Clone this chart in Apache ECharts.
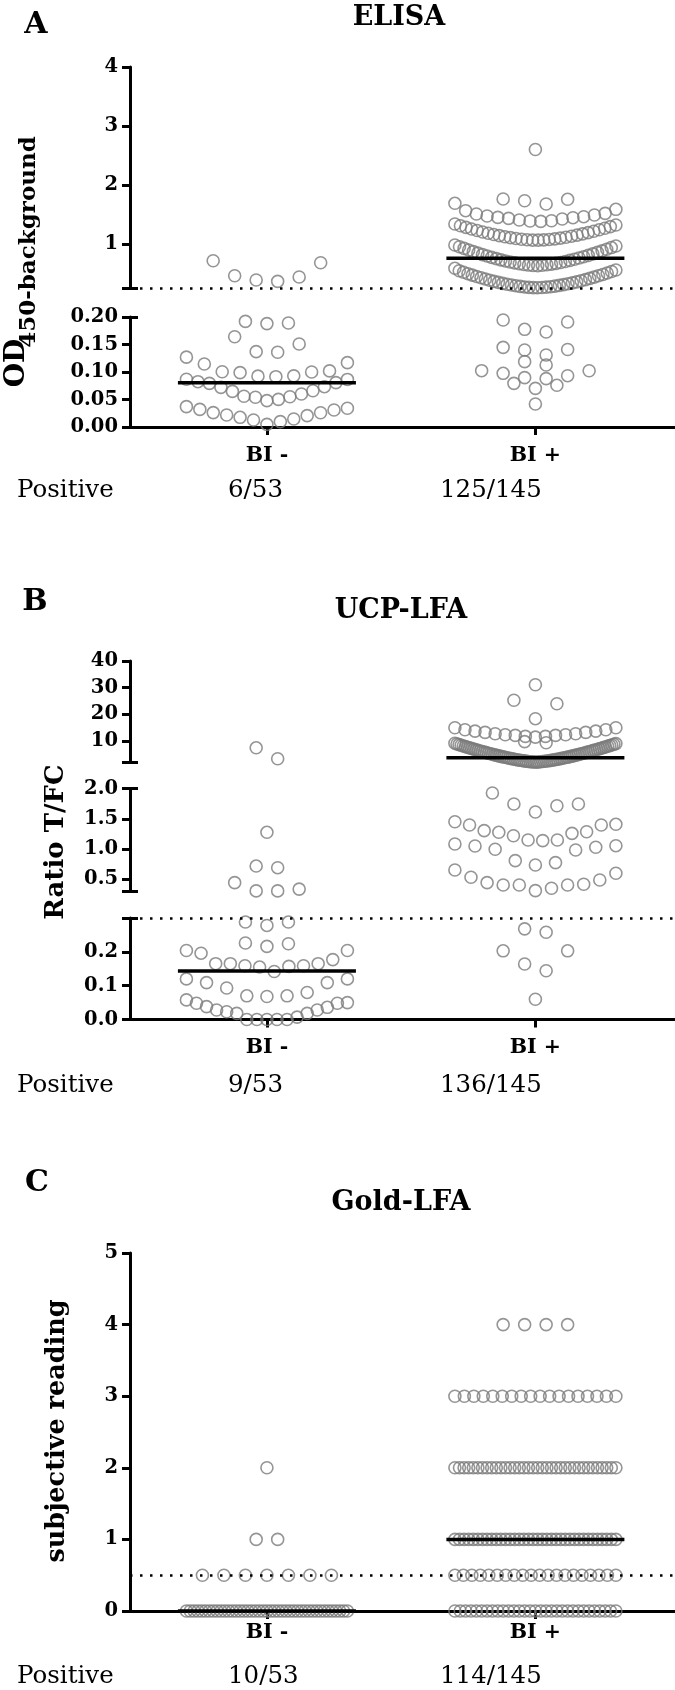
<!DOCTYPE html>
<html>
<head>
<meta charset="utf-8">
<script src="https://cdn.jsdelivr.net/npm/echarts@6.0.0/dist/echarts.min.js"></script>
<style>
html,body{margin:0;padding:0;background:#ffffff;}
#chart{width:675px;height:1690px;}
</style>
</head>
<body>
<div id="chart"></div>
<script>
// ======================= DATA =======================
const groups = ['BI -', 'BI +'];
const positiveText = 'Positive';

// ---- Panel A: ELISA (each inner array = one row of the dot plot) ----
const elisaNegRows = [
  [0.363, 0.385, 0.436, 0.458, 0.679, 0.713],
  [0.188, 0.189, 0.192],
  [0.136, 0.137, 0.151, 0.164],
  [0.0915, 0.0925, 0.093, 0.0988, 0.100, 0.1005, 0.102, 0.1145, 0.117, 0.127],
  [0.048, 0.0503, 0.054, 0.055, 0.056, 0.060, 0.0648, 0.066, 0.0721, 0.0733, 0.0794, 0.0806, 0.0824, 0.0865, 0.0868],
  [0.0048, 0.0097, 0.0127, 0.0145, 0.0176, 0.0206, 0.0218, 0.026, 0.0262, 0.031, 0.032, 0.034, 0.037]
];
const elisaPosRows = [
  [2.60],
  [1.675, 1.73, 1.755, 1.76],
  [1.38, 1.387, 1.392, 1.404, 1.421, 1.432, 1.443, 1.449, 1.46, 1.472, 1.489, 1.506, 1.517, 1.562, 1.585, 1.687],
  [1.062, 1.063, 1.066, 1.069, 1.074, 1.078, 1.084, 1.09, 1.097, 1.104, 1.112, 1.12, 1.129, 1.138, 1.147,
   1.157, 1.168, 1.178, 1.19, 1.201, 1.213, 1.226, 1.238, 1.251, 1.264, 1.278, 1.292, 1.306, 1.319, 1.336],
  [0.63, 0.632, 0.635, 0.639, 0.644, 0.649, 0.655, 0.661, 0.668, 0.676, 0.683, 0.692, 0.70, 0.709, 0.719, 0.728, 0.738, 0.748,
   0.759, 0.77, 0.781, 0.793, 0.804, 0.816, 0.829, 0.841, 0.854, 0.867, 0.88, 0.894, 0.908, 0.922, 0.936, 0.95, 0.963, 0.98],
  [0.255, 0.256, 0.258, 0.261, 0.264, 0.268, 0.272, 0.277, 0.282, 0.288, 0.294, 0.30, 0.307, 0.314, 0.321, 0.329, 0.337, 0.346, 0.354,
   0.363, 0.373, 0.382, 0.392, 0.402, 0.413, 0.423, 0.434, 0.445, 0.457, 0.468, 0.48, 0.492, 0.505, 0.517, 0.53, 0.543, 0.555, 0.584],
  [0.1727, 0.1776, 0.1909, 0.1945],
  [0.1309, 0.140, 0.141, 0.1448],
  [0.1127, 0.1188],
  [0.0879, 0.0897, 0.0933, 0.0976, 0.1022, 0.1024],
  [0.0703, 0.0758, 0.0794],
  [0.0418]
];
const elisaMedians = [0.0805, 0.754];
const elisaCutoff = 0.25;
const elisaPositive = ['6/53', '125/145'];
const elisaUpperTicks = [1, 2, 3, 4];
const elisaLowerTicks = [0, 0.05, 0.10, 0.15, 0.20];

// ---- Panel B: UCP-LFA ----
const ucpNegRows = [
  [3.4, 7.5],
  [1.277],
  [0.693, 0.72],
  [0.31, 0.31, 0.34, 0.446],
  [0.278, 0.288, 0.288],
  [0.216, 0.224, 0.226],
  [0.142, 0.155, 0.157, 0.159, 0.159, 0.165, 0.165, 0.165, 0.177, 0.196, 0.204, 0.204],
  [0.068, 0.07, 0.07, 0.08, 0.093, 0.109, 0.109, 0.12, 0.12],
  [0, 0, 0, 0, 0, 0.007, 0.018, 0.018, 0.023, 0.028, 0.028, 0.036, 0.038, 0.048, 0.048, 0.05, 0.058]
];
const ucpPosRows = [
  [31.1],
  [18.4, 24.0, 25.3],
  [11.5, 11.77, 11.77, 12.14, 12.14, 12.4, 12.4, 12.76, 12.76, 13.26, 13.26, 13.76, 13.76, 14.26, 14.26, 15.0, 15.0],
  [9.4, 9.8],
  [2.15, 2.17, 2.19, 2.22, 2.26, 2.30, 2.35, 2.40, 2.45, 2.50, 2.55, 2.61, 2.67, 2.73, 2.80, 2.86, 2.93, 3.00, 3.07, 3.14,
   3.22, 3.29, 3.37, 3.45, 3.53, 3.61, 3.69, 3.78, 3.86, 3.95, 4.03, 4.12, 4.21, 4.30, 4.39, 4.49, 4.58, 4.68, 4.77, 4.87,
   4.97, 5.07, 5.17, 5.27, 5.37, 5.47, 5.58, 5.68, 5.79, 5.89, 6.00, 6.11, 6.22, 6.33, 6.44, 6.55, 6.66, 6.78, 6.89, 7.01,
   7.12, 7.24, 7.36, 7.47, 7.59, 7.71, 7.83, 7.95, 8.07, 8.20, 8.32, 8.44, 8.57, 8.69, 8.82, 8.94, 9.07, 9.20],
  [1.612, 1.716, 1.744, 1.744, 1.926],
  [1.139, 1.15, 1.15, 1.221, 1.26, 1.277, 1.287, 1.304, 1.398, 1.398, 1.409, 1.452],
  [0.738, 0.776, 0.809, 0.985, 0.997, 1.03, 1.051, 1.056, 1.084],
  [0.314, 0.353, 0.408, 0.408, 0.408, 0.419, 0.446, 0.49, 0.535, 0.601, 0.655],
  [0.258, 0.268],
  [0.144, 0.164, 0.203, 0.203],
  [0.06]
];
const ucpMedians = [0.143, 3.8];
const ucpCutoff = 0.3;
const ucpPositive = ['9/53', '136/145'];
const ucpUpperTicks = [10, 20, 30, 40];
const ucpMiddleTicks = [0.5, 1.0, 1.5, 2.0];
const ucpLowerTicks = [0, 0.1, 0.2];

// ---- Panel C: Gold-LFA (discrete readings, number of samples per level) ----
const goldLevels = [0, 0.5, 1, 2, 3, 4];
const goldNegCounts = [43, 7, 2, 1, 0, 0];
const goldPosCounts = [31, 20, 36, 36, 18, 4];
const goldMedians = [0, 1];
const goldCutoff = 0.5;
const goldPositive = ['10/53', '114/145'];
const goldTicks = [0, 1, 2, 3, 4, 5];

// ======================= LAYOUT / STYLE =======================
const FONT = 'DejaVu Serif';
const GRID_LEFT = 130, X_MIN = 0.49, X_MAX = 2.52;
const AXIS_W = 3, TICK_LEN = 8;
const MAX_STEP = 21.5, HALF_W = 80.5, MED_HALF = 89, SYM = 12;
const DOT_COLOR = '#7a7a7a';

function countsToRows(levels, counts) {
  return levels.map((v, i) => Array(counts[i]).fill(v)).filter(r => r.length);
}

const panels = [
  { title: 'ELISA', letter: 'A', letterPos: [36, 25], titlePos: [399, 18],
    rows: [elisaNegRows, elisaPosRows], medians: elisaMedians, cutoff: elisaCutoff, cutoffSeg: 0,
    positive: elisaPositive, positiveY: 491, catMargin: 18,
    segs: [
      { top: 67, bottom: 288, min: 0.25, max: 4, ticks: elisaUpperTicks, dec: 0, capLow: true },
      { top: 317, bottom: 427, min: 0, max: 0.2, ticks: elisaLowerTicks, dec: 2, capHigh: true }
    ] },
  { title: 'UCP-LFA', letter: 'B', letterPos: [35, 602], titlePos: [401, 611],
    rows: [ucpNegRows, ucpPosRows], medians: ucpMedians, cutoff: ucpCutoff, cutoffSeg: 2,
    positive: ucpPositive, positiveY: 1086, catMargin: 18,
    segs: [
      { top: 661, bottom: 762.5, min: 2, max: 40, ticks: ucpUpperTicks, dec: 0, capLow: true },
      { top: 788.5, bottom: 891.5, min: 0.3, max: 2, ticks: ucpMiddleTicks, dec: 1, capLow: true, capHigh: true },
      { top: 918, bottom: 1019.5, min: 0, max: 0.3, ticks: ucpLowerTicks, dec: 1, capHigh: true }
    ] },
  { title: 'Gold-LFA', letter: 'C', letterPos: [37, 1183], titlePos: [401, 1203],
    rows: [countsToRows(goldLevels, goldNegCounts), countsToRows(goldLevels, goldPosCounts)],
    medians: goldMedians, cutoff: goldCutoff, cutoffSeg: 0,
    positive: goldPositive, positiveY: 1677, catMargin: 11,
    segs: [
      { top: 1253, bottom: 1611, min: 0, max: 5, ticks: goldTicks, dec: 0 }
    ] }
];

const chart = echarts.init(document.getElementById('chart'), null, { width: 675, height: 1690 });

const grids = [], xAxes = [], yAxes = [], capList = [];
const fmt = dec => v => dec === 0 ? String(Math.round(v)) : Number(v).toFixed(dec);

panels.forEach(p => {
  p.segs.forEach((s, si) => {
    const g = grids.length; s.grid = g;
    const isBottom = si === p.segs.length - 1;
    grids.push({ left: GRID_LEFT, right: 0, top: s.top, height: s.bottom - s.top, containLabel: false, outerBoundsMode: 'none' });
    xAxes.push({
      type: 'value', gridIndex: g, min: X_MIN, max: X_MAX, show: isBottom,
      axisLine: { show: true, onZero: false, lineStyle: { color: '#000', width: AXIS_W } },
      axisTick: { show: true, customValues: [1, 2], length: TICK_LEN, lineStyle: { color: '#000', width: AXIS_W } },
      axisLabel: { show: true, customValues: [1, 2], formatter: v => groups[Math.round(v) - 1], margin: p.catMargin,
        color: '#000', fontFamily: FONT, fontWeight: 'bold', fontSize: 20.5 },
      splitLine: { show: false }
    });
    const tickVals = s.ticks.slice();
    if (s.capLow) tickVals.push(s.min);
    if (s.capHigh) tickVals.push(s.max);
    yAxes.push({
      type: 'value', gridIndex: g, min: s.min, max: s.max, position: 'left',
      axisLine: { show: true, onZero: false, lineStyle: { color: '#000', width: AXIS_W } },
      axisTick: { show: true, customValues: tickVals, length: TICK_LEN, lineStyle: { color: '#000', width: AXIS_W } },
      axisLabel: { show: true, customValues: s.ticks, formatter: fmt(s.dec), margin: 12,
        color: '#000', fontFamily: FONT, fontWeight: 'bold', fontSize: 19.5 },
      splitLine: { show: false }
    });
    const caps = [];
    if (s.capLow) caps.push(s.min);
    if (s.capHigh) caps.push(s.max);
    if (caps.length) capList.push({ g, caps, min: s.min, max: s.max });
  });
});
// inner half of the axis-break caps
capList.forEach(c => {
  yAxes.push({
    type: 'value', gridIndex: c.g, min: c.min, max: c.max, position: 'left',
    axisLine: { show: false },
    axisTick: { show: true, inside: true, customValues: c.caps, length: TICK_LEN, lineStyle: { color: '#000', width: AXIS_W } },
    axisLabel: { show: false }, splitLine: { show: false }
  });
});

// ---------- texts ----------
function txt(text, x, y, size, weight, align, rot) {
  return { type: 'text', x: x, y: y, rotation: rot || 0, silent: true, z: 100,
    style: { text: text, fill: '#000', font: weight + ' ' + size + 'px "' + FONT + '"',
      textAlign: align, textVerticalAlign: 'middle', align: align, verticalAlign: 'middle' } };
}
const graphics = [];
panels.forEach(p => {
  graphics.push(txt(p.letter, p.letterPos[0], p.letterPos[1], 30, 'bold', 'center'));
  graphics.push(txt(p.title, p.titlePos[0], p.titlePos[1], 27, 'bold', 'center'));
  graphics.push(txt(positiveText, 17, p.positiveY, 24.5, 'normal', 'left'));
  graphics.push(txt(p.positive[0], 228, p.positiveY, 24.5, 'normal', 'left'));
  graphics.push(txt(p.positive[1], 440, p.positiveY, 24.5, 'normal', 'left'));
});
const ROT = Math.PI / 2;
graphics.push(txt('OD', 17, 363, 28, 'bold', 'center', ROT));
graphics.push(txt('450-background', 29, 242, 23, 'bold', 'center', ROT));
graphics.push(txt('Ratio T/FC', 56, 842, 26, 'bold', 'center', ROT));
graphics.push(txt('subjective reading', 57, 1431, 25.5, 'bold', 'center', ROT));

chart.setOption({
  animation: false,
  backgroundColor: '#ffffff',
  grid: grids, xAxis: xAxes, yAxis: yAxes,
  graphic: { elements: graphics },
  series: []
});

// ---------- dot-plot layout through the axis scale ----------
const pxPerX = chart.convertToPixel({ xAxisIndex: 0 }, 2) - chart.convertToPixel({ xAxisIndex: 0 }, 1);

function swarmRow(vals, center) {
  const s = vals.slice().sort((a, b) => a - b);
  const n = s.length;
  const step = n > 1 ? Math.min(MAX_STEP, 2 * HALF_W / (n - 1)) : 0;
  return s.map((v, i) => {
    let pos;
    if (n % 2) { const k = Math.ceil(i / 2); pos = i === 0 ? 0 : (i % 2 ? k : -k); }
    else { const k = Math.floor(i / 2) + 0.5; pos = i % 2 === 0 ? k : -k; }
    return [center + pos * step / pxPerX, v];
  });
}
function segOf(p, v) {
  return p.segs.findIndex(s => v >= s.min && v <= s.max);
}

const series = [];
panels.forEach(p => {
  p.rows.forEach((groupRows, gi) => {
    const center = gi + 1;
    const perSeg = p.segs.map(() => []);
    groupRows.forEach(row => {
      const si = segOf(p, row[0]);
      swarmRow(row, center).forEach(d => perSeg[si].push(d));
    });
    perSeg.forEach((data, si) => {
      if (!data.length) return;
      const g = p.segs[si].grid;
      series.push({
        type: 'scatter', xAxisIndex: g, yAxisIndex: g, data: data,
        symbol: 'circle', symbolSize: SYM, clip: false, silent: true, animation: false, z: 2,
        itemStyle: { color: 'rgba(255,255,255,0)', borderColor: DOT_COLOR, borderWidth: 1.6 }
      });
    });
    const med = p.medians[gi];
    const mg = p.segs[segOf(p, med)].grid;
    const hw = MED_HALF / pxPerX;
    series.push({
      type: 'line', xAxisIndex: mg, yAxisIndex: mg, data: [[center - hw, med], [center + hw, med]],
      symbol: 'none', silent: true, animation: false, z: 5, clip: false,
      lineStyle: { color: '#000', width: 3.5 }
    });
  });
  const cg = p.segs[p.cutoffSeg].grid;
  series.push({
    type: 'line', xAxisIndex: cg, yAxisIndex: cg, data: [], silent: true, animation: false, z: 4,
    markLine: { silent: true, animation: false, symbol: ['none', 'none'], label: { show: false },
      lineStyle: { color: '#000', type: [2.5, 7.5], width: 2.6 },
      data: [{ yAxis: p.cutoff }] }
  });
});

chart.setOption({ series: series });
</script>
</body>
</html>
